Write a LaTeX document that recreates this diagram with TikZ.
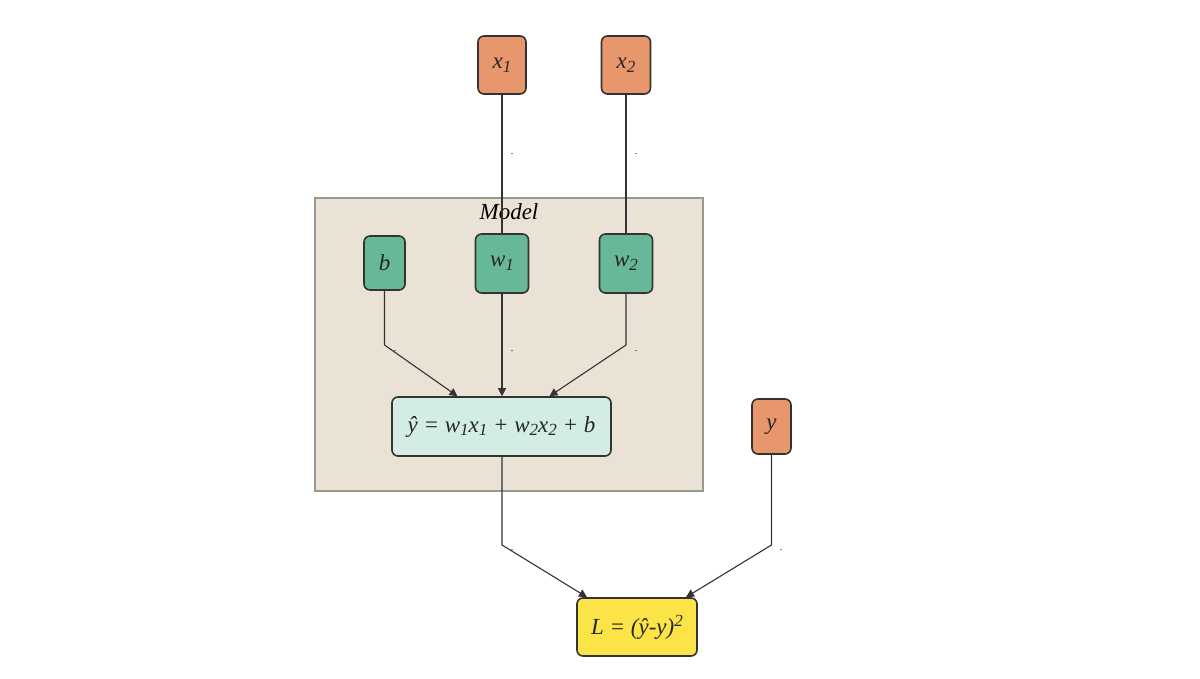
\documentclass[tikz,border=0pt]{standalone}
\usepackage{fontspec}
\setmainfont{Liberation Serif}
\usetikzlibrary{arrows.meta,positioning}
\definecolor{inorange}{HTML}{E8966C}
\definecolor{wgreen}{HTML}{66B898}
\definecolor{eqcyan}{HTML}{D3ECE4}
\definecolor{lossyellow}{HTML}{FCE448}
\definecolor{modelbg}{HTML}{EAE2D4}
\definecolor{modelborder}{HTML}{9A9790}
\definecolor{edgedark}{HTML}{333333}
\newcommand{\mysubs}[1]{\raisebox{-0.35ex}{\fontsize{17}{17}\selectfont #1}}
\newcommand{\mysups}[1]{\raisebox{0.75ex}{\fontsize{17}{17}\selectfont #1}}
\tikzset{
  box/.style={draw=edgedark, line width=1.6pt, rounded corners=6pt, inner sep=0pt,
    font=\fontsize{23}{27}\selectfont\itshape, text=black!85},
  inbox/.style={box, fill=inorange},
  wbox/.style={box, fill=wgreen},
  conn/.style={draw=edgedark, line width=1.1pt},
  arr/.style={conn, -{Triangle[length=8pt,width=8pt]}},
  dotlab/.style={font=\fontsize{10}{10}\selectfont, inner sep=0pt, text=black}
}
\begin{document}
\begin{tikzpicture}[x=1pt,y=-1pt]
\useasboundingbox (0,0) rectangle (1200,679);
% model frame
\node[draw=modelborder, fill=modelbg, line width=1.6pt, minimum width=388pt, minimum height=293pt, inner sep=0pt] (model) at (509,344.5) {};
\node[font=\fontsize{23}{27}\selectfont\itshape, inner sep=0pt] (modellabel) at (509,212) {Model};
% nodes
\node[inbox, minimum width=48pt, minimum height=58pt] (x1) at (502,65) {x\mysubs{1}};
\node[inbox, minimum width=49pt, minimum height=58pt] (x2) at (626,65) {x\mysubs{2}};
\node[wbox, minimum width=41pt, minimum height=54pt] (b) at (384.5,263) {b};
\node[wbox, minimum width=53pt, minimum height=59pt] (w1) at (502,263.5) {w\mysubs{1}};
\node[wbox, minimum width=53pt, minimum height=59pt] (w2) at (626,263.5) {w\mysubs{2}};
\node[box, fill=eqcyan, minimum width=219pt, minimum height=59pt] (yhat) at (501.5,426.5)
  {ŷ = w\mysubs{1}x\mysubs{1} + w\mysubs{2}x\mysubs{2} + b};
\node[inbox, minimum width=39pt, minimum height=55pt] (y) at (771.5,426.5) {y};
\node[box, fill=lossyellow, minimum width=120pt, minimum height=58pt] (L) at (637,627)
  {L = (ŷ-y)\mysups{2}};
% bend coordinates
\coordinate (bb) at (384.5,345);
\coordinate (w2b) at (626,345);
\coordinate (yhb) at (502,545);
\coordinate (yb) at (771.5,545);
% connectors
\draw[conn] (x1.south) -- (w1.north);
\draw[conn] (x2.south) -- (w2.north);
\draw[arr] (b.south) -- (bb) -- ([xshift=-44pt]yhat.north);
\draw[arr] (w1.south) -- (w1.south |- yhat.north);
\draw[arr] (w2.south) -- (w2b) -- ([xshift=48pt]yhat.north);
\draw[arr] (yhb |- yhat.south) -- (yhb) -- ([xshift=-50pt]L.north);
\draw[arr] (y.south) -- (yb) -- ([xshift=49pt]L.north);
% tiny edge labels
\node[dotlab] (d1) at (512,154) {.};
\node[dotlab] (d2) at (636,154) {.};
\node[dotlab] (d3) at (395,351) {.};
\node[dotlab] (d4) at (512,351) {.};
\node[dotlab] (d5) at (636,351) {.};
\node[dotlab] (d6) at (512,550) {.};
\node[dotlab] (d7) at (781,550) {.};
\end{tikzpicture}
\end{document}
